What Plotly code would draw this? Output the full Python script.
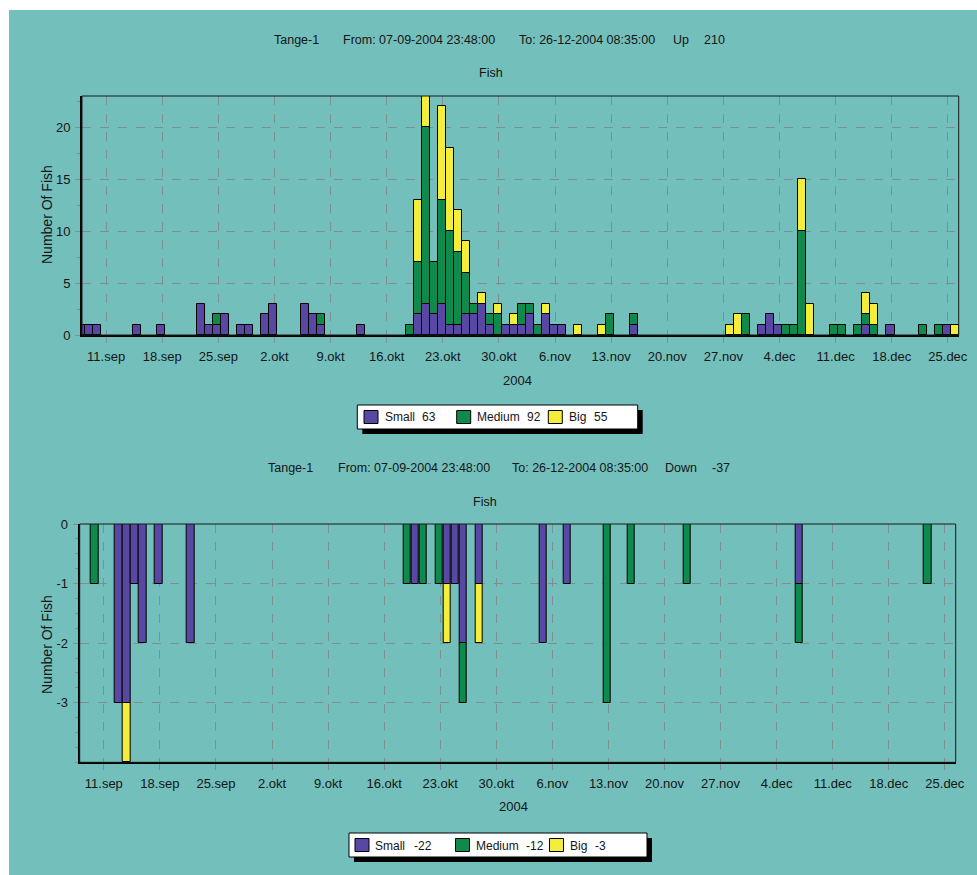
import plotly.graph_objects as go

W, H = 977, 875

# ---------------- data ----------------
up_dates = ["2004-09-08", "2004-09-09", "2004-09-10", "2004-09-15", "2004-09-18", "2004-09-23",
            "2004-09-24", "2004-09-25", "2004-09-26", "2004-09-28", "2004-09-29",
            "2004-10-01", "2004-10-02", "2004-10-06", "2004-10-07", "2004-10-08", "2004-10-13",
            "2004-10-19", "2004-10-20", "2004-10-21", "2004-10-22", "2004-10-23", "2004-10-24",
            "2004-10-25", "2004-10-26", "2004-10-27", "2004-10-28", "2004-10-29", "2004-10-30",
            "2004-10-31",
            "2004-11-01", "2004-11-02", "2004-11-03", "2004-11-04", "2004-11-05", "2004-11-06",
            "2004-11-07", "2004-11-09", "2004-11-12", "2004-11-13", "2004-11-16",
            "2004-11-28", "2004-11-29", "2004-11-30",
            "2004-12-02", "2004-12-03", "2004-12-04", "2004-12-05", "2004-12-06", "2004-12-07",
            "2004-12-08", "2004-12-11", "2004-12-12", "2004-12-14", "2004-12-15", "2004-12-16",
            "2004-12-18", "2004-12-22", "2004-12-24", "2004-12-25", "2004-12-26"]
small_up = [1, 1, 1, 1, 1, 3, 1, 1, 2, 1, 1,
            2, 3, 3, 2, 1, 1,
            0, 2, 3, 2, 3, 1, 1, 2, 2, 3, 1, 0, 1,
            1, 1, 2, 0, 2, 1, 1, 0, 0, 0, 1,
            0, 0, 0,
            1, 2, 1, 0, 0, 0, 0, 0, 0, 0, 1, 0, 1, 0, 0, 1, 0]
medium_up = [0, 0, 0, 0, 0, 0, 0, 1, 0, 0, 0,
             0, 0, 0, 0, 1, 0,
             1, 5, 17, 5, 10, 9, 7, 4, 1, 0, 1, 2, 0,
             0, 2, 1, 1, 0, 0, 0, 0, 0, 2, 1,
             0, 0, 2,
             0, 0, 0, 1, 1, 10, 0, 1, 1, 1, 1, 1, 0, 1, 1, 0, 0]
big_up = [0, 0, 0, 0, 0, 0, 0, 0, 0, 0, 0,
          0, 0, 0, 0, 0, 0,
          0, 6, 3, 0, 9, 8, 4, 3, 0, 1, 0, 1, 0,
          1, 0, 0, 0, 1, 0, 0, 1, 1, 0, 0,
          1, 2, 0,
          0, 0, 0, 0, 0, 5, 3, 0, 0, 0, 2, 2, 0, 0, 0, 0, 1]

down_dates = ["2004-09-10", "2004-09-13", "2004-09-14", "2004-09-15", "2004-09-16", "2004-09-18",
              "2004-09-22", "2004-10-19", "2004-10-20", "2004-10-21", "2004-10-23", "2004-10-24",
              "2004-10-25", "2004-10-26", "2004-10-28", "2004-11-05", "2004-11-08", "2004-11-13",
              "2004-11-16", "2004-11-23", "2004-12-07", "2004-12-23"]
small_down = [0, -3, -3, -1, -2, -1, -2, 0, -1, 0, 0, -1, -1, -2, -1, -2, -1, 0, 0, 0, -1, 0]
medium_down = [-1, 0, 0, 0, 0, 0, 0, -1, 0, -1, -1, 0, 0, -1, 0, 0, 0, -3, -1, -1, -1, -1]
big_down = [0, 0, -1, 0, 0, 0, 0, 0, 0, 0, 0, -1, 0, 0, -1, 0, 0, 0, 0, 0, 0, 0]

tick_dates = ["2004-09-11", "2004-09-18", "2004-09-25", "2004-10-02", "2004-10-09", "2004-10-16",
              "2004-10-23", "2004-10-30", "2004-11-06", "2004-11-13", "2004-11-20", "2004-11-27",
              "2004-12-04", "2004-12-11", "2004-12-18", "2004-12-25"]
tick_labels = ["11.sep", "18.sep", "25.sep", "2.okt", "9.okt", "16.okt", "23.okt", "30.okt",
               "6.nov", "13.nov", "20.nov", "27.nov", "4.dec", "11.dec", "18.dec", "25.dec"]

station = "Tange-1"
t_from = "07-09-2004 23:48:00"
t_to = "26-12-2004 08:35:00"
x_range = ["2004-09-07 23:48:00", "2004-12-26 08:35:00"]

# ---------------- style ----------------
TEAL = "#73BFBC"
PURPLE = "#5847A3"
GREEN = "#0F8A4C"
YELLOW = "#F4EE3A"
GRID = "#7F8F90"
TXT = "#151515"
FONT = "Liberation Sans, Arial, sans-serif"
DAY = 86400000


def px(x):
    return x / W


def py(y):
    return 1 - y / H


def nz(a):
    return [v if v else None for v in a]


fig = go.Figure()
names = ["Small", "Medium", "Big"]
cols = [PURPLE, GREEN, YELLOW]
for nm, col, vals in zip(names, cols, [small_up, medium_up, big_up]):
    fig.add_trace(go.Bar(x=up_dates, y=nz(vals), name=nm, marker=dict(color=col, line=dict(color="black", width=1)),
                         width=DAY, offset=-0.65 * DAY, xaxis="x", yaxis="y", showlegend=False))
for nm, col, vals in zip(names, cols, [small_down, medium_down, big_down]):
    fig.add_trace(go.Bar(x=down_dates, y=nz(vals), name=nm, marker=dict(color=col, line=dict(color="black", width=1)),
                         width=0.92 * DAY, offset=-0.61 * DAY, xaxis="x2", yaxis="y2", showlegend=False))

xcommon = dict(type="date", range=x_range, tickmode="array", tickvals=tick_dates, ticktext=tick_labels,
               showgrid=True, gridcolor=GRID, griddash="dash", gridwidth=1,
               ticks="outside", ticklen=6, tickcolor=GRID, tickwidth=1,
               showline=True, linecolor="black", linewidth=2, zeroline=False, automargin=False,
               tickfont=dict(family=FONT, size=13, color=TXT), ticklabelstandoff=2, fixedrange=True)
ycommon = dict(showgrid=True, gridcolor=GRID, griddash="dash", gridwidth=1,
               ticks="outside", ticklen=5, tickcolor=GRID, tickwidth=1,
               showline=True, linecolor="black", linewidth=2, zeroline=False, automargin=False,
               tickfont=dict(family=FONT, size=13, color=TXT), ticklabelstandoff=2, fixedrange=True)

fig.update_layout(
    width=W, height=H, autosize=False,
    margin=dict(l=0, r=0, t=0, b=0, pad=0),
    paper_bgcolor=TEAL, plot_bgcolor=TEAL,
    barmode="relative", bargap=0, showlegend=False,
    xaxis=dict(domain=[px(82), px(958.7)], anchor="y", **xcommon),
    yaxis=dict(domain=[py(335), py(96)], anchor="x", range=[0, 23], tickvals=[0, 5, 10, 15, 20],
               minor=dict(dtick=2.5, ticks="outside", ticklen=3, tickcolor=GRID, showgrid=False), **ycommon),
    xaxis2=dict(domain=[px(79.7), px(955.7)], anchor="y2", **xcommon),
    yaxis2=dict(domain=[py(762.3), py(524)], anchor="x2", range=[-4, 0], tickvals=[0, -1, -2, -3],
                ticktext=["0", "-1", "-2", "-3"],
                minor=dict(dtick=0.25, ticks="outside", ticklen=3, tickcolor=GRID, showgrid=False), **ycommon),
)

shapes = []
# white outer strip (left / top)
shapes.append(dict(type="rect", xref="paper", yref="paper", x0=0, x1=px(9), y0=0, y1=1,
                   fillcolor="white", line=dict(width=0), layer="below"))
shapes.append(dict(type="rect", xref="paper", yref="paper", x0=0, x1=1, y0=py(10), y1=1,
                   fillcolor="white", line=dict(width=0), layer="below"))
# plot frames
for xr, yr in [("x", "y"), ("x2", "y2")]:
    shapes.append(dict(type="rect", xref=xr + " domain", yref=yr + " domain", x0=0, x1=1, y0=0, y1=1,
                       line=dict(color="#1a1a1a", width=1), fillcolor="rgba(0,0,0,0)", layer="above"))

annotations = []


def text(s, x, y, xanchor="left", size=12.5, angle=0, family=FONT):
    annotations.append(dict(text=s, x=px(x), y=py(y), xref="paper", yref="paper", xanchor=xanchor,
                            yanchor="middle", showarrow=False, textangle=angle,
                            font=dict(family=family, size=size, color=TXT)))


up_total = sum(small_up) + sum(medium_up) + sum(big_up)
down_total = sum(small_down) + sum(medium_down) + sum(big_down)

# titles
for (xs, yv, word, val) in [((272, 341, 517, 671, 702), 40, "Up", up_total),
                            ((266, 336, 510, 663, 710), 468, "Down", down_total)]:
    text(station, xs[0], yv)
    text("From: " + t_from, xs[1], yv)
    text("To: " + t_to, xs[2], yv)
    text(word, xs[3], yv)
    text(str(val), xs[4], yv)
text("Fish", 491, 73, "center")
text("Fish", 485, 502, "center")
text("2004", 517, 380, "center", size=13)
text("2004", 513, 806, "center", size=13)
text("Number Of Fish", 47, 215, "center", size=14, angle=-90)
text("Number Of Fish", 47, 645, "center", size=14, angle=-90)

# legends (manual boxes with drop shadow)
legend_specs = [
    dict(box=(357.3, 405, 637.7, 429), sq=[364, 456.7, 548.3], lab=[382.7, 475, 566.7],
         num=[420, 525, 592], vals=[sum(small_up), sum(medium_up), sum(big_up)]),
    dict(box=(349, 833, 647, 857), sq=[355, 455.5, 549.5], lab=[373, 474, 568],
         num=[412, 524, 593], vals=[sum(small_down), sum(medium_down), sum(big_down)]),
]
for spec in legend_specs:
    x0, y0, x1, y1 = spec["box"]
    shapes.append(dict(type="rect", xref="paper", yref="paper", x0=px(x0 + 5), x1=px(x1 + 5),
                       y0=py(y1 + 5), y1=py(y0 + 5), fillcolor="black", line=dict(width=0), layer="below"))
    shapes.append(dict(type="rect", xref="paper", yref="paper", x0=px(x0), x1=px(x1),
                       y0=py(y1), y1=py(y0), fillcolor="white", line=dict(color="black", width=1), layer="below"))
    yc = (y0 + y1) / 2
    for sx, lx, nx, col, nm, v in zip(spec["sq"], spec["lab"], spec["num"], cols, names, spec["vals"]):
        shapes.append(dict(type="rect", xref="paper", yref="paper", x0=px(sx), x1=px(sx + 14),
                           y0=py(yc + 6.5), y1=py(yc - 6.5), fillcolor=col,
                           line=dict(color="black", width=1), layer="below"))
        text(nm, lx, yc + 0.5, size=12)
        text(str(v), nx, yc + 0.5, "left", size=12)

fig.update_layout(shapes=shapes, annotations=annotations)

fig.write_html("out.html", config={"displayModeBar": False},
               post_script="document.body.style.margin='0';document.body.style.overflow='hidden';")
